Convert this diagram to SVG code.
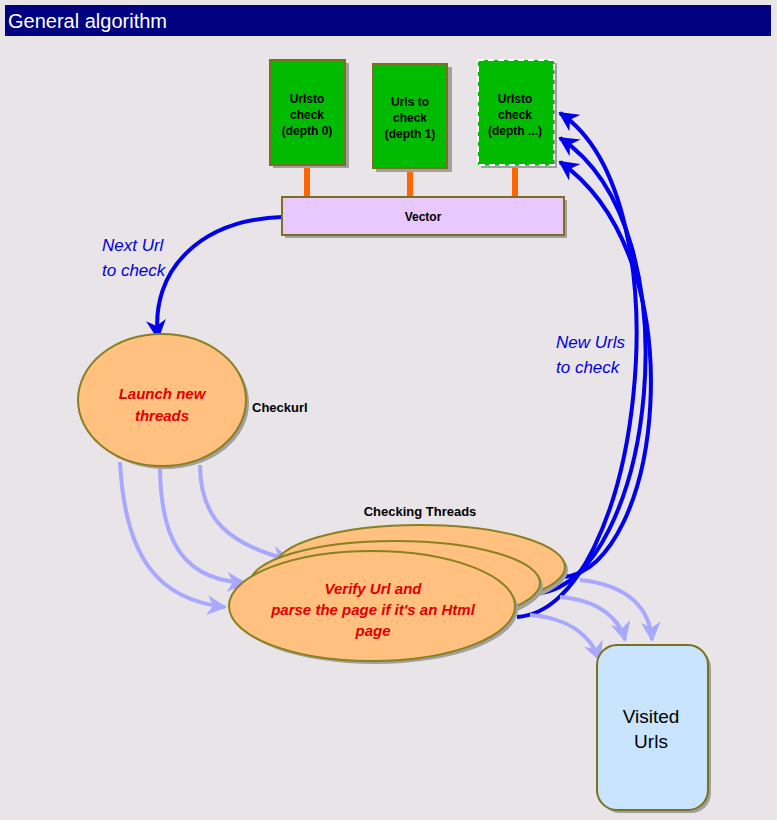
<svg xmlns="http://www.w3.org/2000/svg" width="777" height="820" viewBox="0 0 777 820">
<style>
.g{fill:#00BB00;stroke:#7A7020;stroke-width:2}
.t{font-family:"Liberation Sans",Arial,sans-serif;font-weight:bold;fill:#000}
.o{fill:#FFC080;stroke:#8A8020;stroke-width:2}
.red{font-family:"Liberation Sans",Arial,sans-serif;font-style:italic;font-weight:bold;fill:#E00000;font-size:15px}
.blue{font-family:"Liberation Sans",Arial,sans-serif;font-style:italic;fill:#0000DD;font-size:17px}
.bl{fill:none;stroke:#0000EE;stroke-width:4}
.lb{fill:none;stroke:#A8A8FF;stroke-width:4}
.sh{fill:#A0A0A0}
</style>
<defs>
<marker id="ab" viewBox="0 0 10 10" refX="9" refY="5" markerWidth="5" markerHeight="5" orient="auto"><path d="M0,0L10,5L0,10L3,5z" fill="#0000EE"/></marker>
<marker id="al" viewBox="0 0 10 10" refX="9" refY="5" markerWidth="5" markerHeight="5" orient="auto"><path d="M0,0L10,5L0,10L3,5z" fill="#A8A8FF"/></marker>
</defs>
<rect width="777" height="820" fill="#E8E4E8"/>
<g id="title"><rect x="5" y="5" width="766" height="31" fill="#000080"/><text x="8" y="28" font-family="Liberation Sans,Arial,sans-serif" font-size="20" fill="#fff">General algorithm</text></g>
<g id="connectors">
<rect x="304" y="165" width="6" height="33" fill="#FF6600"/>
<rect x="407" y="168" width="6" height="30" fill="#FF6600"/>
<rect x="512" y="165" width="6" height="33" fill="#FF6600"/>
<path class="bl" d="M282,217 C200,220 150,270 158,338" marker-end="url(#ab)"/>
<path class="bl" d="M517,617 C640,610 690,200 560,113" marker-end="url(#ab)"/>
<path class="bl" d="M540,593 C650,580 700,230 560,138" marker-end="url(#ab)"/>
<path class="bl" d="M563,577 C660,570 700,260 560,162" marker-end="url(#ab)"/>
<path class="lb" d="M120,462 C125,560 160,600 225,607" marker-end="url(#al)"/>
<path class="lb" d="M160,465 C160,550 190,580 245,583" marker-end="url(#al)"/>
<path class="lb" d="M200,465 C200,520 230,545 290,560" marker-end="url(#al)"/>
<path class="lb" d="M530,615 C570,618 590,635 600,660" marker-end="url(#al)"/>
<path class="lb" d="M560,597 C600,600 620,620 625,640" marker-end="url(#al)"/>
<path class="lb" d="M580,580 C630,585 650,610 652,640" marker-end="url(#al)"/>
<text class="blue" x="102" y="251">Next Url</text><text class="blue" x="102" y="276">to check</text>
<text class="blue" x="556" y="348">New Urls</text><text class="blue" x="556" y="373">to check</text>
</g>
<g id="box0"><rect x="273" y="63" width="76" height="105" class="sh"/><rect x="270" y="60" width="75" height="105" class="g"/>
<text class="t" font-size="12" text-anchor="middle"><tspan x="307" y="103">Urlsto</tspan><tspan x="307" y="119">check</tspan><tspan x="307" y="135">(depth 0)</tspan></text></g>
<g id="box1"><rect x="376" y="67" width="76" height="105" class="sh"/><rect x="373" y="64" width="74" height="104" class="g"/>
<text class="t" font-size="12" text-anchor="middle"><tspan x="410" y="106">Urls to</tspan><tspan x="410" y="122">check</tspan><tspan x="410" y="138">(depth 1)</tspan></text></g>
<g id="box2"><rect x="481" y="63" width="76" height="105" class="sh"/><rect x="478" y="60" width="76" height="105" fill="#00BB00" stroke="#fff" stroke-width="2" stroke-dasharray="6,4"/>
<text class="t" font-size="12" text-anchor="middle"><tspan x="515" y="103">Urlsto</tspan><tspan x="515" y="119">check</tspan><tspan x="515" y="135">(depth ...)</tspan></text></g>
<g id="vector"><rect x="285" y="200" width="282" height="38" class="sh"/><rect x="282" y="197" width="282" height="38" fill="#E8C8FF" stroke="#7A7020" stroke-width="2"/>
<text class="t" font-size="12" x="423" y="221" text-anchor="middle">Vector</text></g>
<g id="checkurl"><ellipse cx="165" cy="403" rx="84" ry="66" class="sh"/><ellipse cx="162" cy="400" rx="84" ry="66" class="o"/>
<text class="red" text-anchor="middle"><tspan x="162" y="399">Launch new</tspan><tspan x="162" y="421">threads</tspan></text>
<text class="t" font-size="13" x="252" y="412">Checkurl</text></g>
<g id="threads"><text class="t" font-size="13" x="420" y="516" text-anchor="middle">Checking Threads</text>
<ellipse cx="423" cy="570" rx="145" ry="44" class="sh"/><ellipse cx="420" cy="567" rx="145" ry="42" class="o"/>
<ellipse cx="398" cy="586" rx="145" ry="44" class="sh"/><ellipse cx="395" cy="583" rx="145" ry="42" class="o"/>
<ellipse cx="375" cy="609" rx="143" ry="55" class="sh"/><ellipse cx="372" cy="606" rx="143" ry="55" class="o"/>
<text class="red" text-anchor="middle" font-size="14"><tspan x="373" y="594">Verify Url and</tspan><tspan x="373" y="615">parse the page if it's an Html</tspan><tspan x="373" y="636">page</tspan></text></g>
<g id="visited"><rect x="600" y="648" width="111" height="165" rx="20" class="sh"/><rect x="597" y="645" width="111" height="165" rx="20" fill="#C8E4FF" stroke="#7A7020" stroke-width="2"/>
<text font-family="Liberation Sans,Arial,sans-serif" font-size="19" text-anchor="middle"><tspan x="651" y="723">Visited</tspan><tspan x="651" y="748">Urls</tspan></text></g>
</svg>
